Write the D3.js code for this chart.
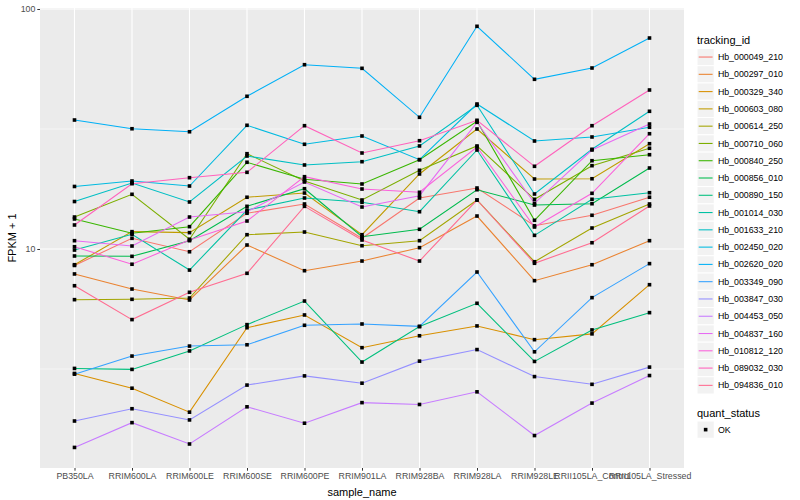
<!DOCTYPE html>
<html><head><meta charset="utf-8">
<script src="https://cdn.jsdelivr.net/npm/d3@7"></script>
<style>body{margin:0;background:#fff} text{font-family:"Liberation Sans",Arial,sans-serif}</style>
</head><body><svg id="c" width="800" height="500"></svg>
<script>
const samples = ["PB350LA","RRIM600LA","RRIM600LE","RRIM600SE","RRIM600PE","RRIM901LA","RRIM928BA","RRIM928LA","RRIM928LE","RRII105LA_Control","RRII105LA_Stressed"];
const trackingIds = ["Hb_000049_210","Hb_000297_010","Hb_000329_340","Hb_000603_080","Hb_000614_250","Hb_000710_060","Hb_000840_250","Hb_000856_010","Hb_000890_150","Hb_001014_030","Hb_001633_210","Hb_002450_020","Hb_002620_020","Hb_003349_090","Hb_003847_030","Hb_004453_050","Hb_004837_160","Hb_010812_120","Hb_089032_030","Hb_094836_010"];
const hueColors = ["#F8766D","#EA8331","#D89000","#C09B00","#A3A500","#7CAE00","#39B600","#00BB4E","#00BF7D","#00C1A3","#00BFC4","#00BAE0","#00B0F6","#35A2FF","#9590FF","#C77CFF","#E76BF3","#FA62DB","#FF62BC","#FF6C91"];
const yTicks = [10, 100];
const yMinor = [3.162, 31.62];
const quantStatus = ["OK"];

// FPKM + 1 values, one array per tracking_id, in sample order
const hb_000049_210 = [8.54, 11.08, 9.74, 14.09, 15.40, 11.08, 16.31, 17.95, 12.50, 13.82, 16.43];
const hb_000297_010 = [7.87, 6.81, 6.13, 10.39, 8.12, 8.91, 10.13, 13.72, 7.38, 8.60, 10.83];
const hb_000329_340 = [3.03, 2.63, 2.09, 4.70, 5.31, 3.88, 4.35, 4.78, 4.19, 4.43, 7.10];
const hb_000603_080 = [8.60, 11.81, 11.70, 16.43, 17.11, 11.47, 20.54, 31.62, 19.57, 19.62, 27.46];
const hb_000614_250 = [6.15, 6.17, 6.25, 11.47, 11.77, 10.32, 10.83, 16.00, 8.85, 12.23, 15.40];
const hb_000710_060 = [13.59, 16.90, 10.98, 24.95, 19.20, 16.00, 21.28, 26.87, 16.11, 22.24, 26.28];
const hb_000840_250 = [13.34, 11.63, 12.39, 22.98, 19.52, 18.66, 23.56, 34.05, 13.17, 23.33, 24.71];
const hb_000856_010 = [9.35, 9.32, 10.83, 15.06, 17.83, 11.25, 12.08, 17.66, 15.25, 15.44, 21.75];
const hb_000890_150 = [3.18, 3.15, 3.76, 4.84, 6.07, 3.38, 4.75, 5.94, 3.40, 4.60, 5.43];
const hb_001014_030 = [9.90, 11.51, 8.17, 14.53, 16.31, 15.65, 14.30, 25.85, 11.40, 16.11, 17.16];
const hb_001633_210 = [15.77, 18.84, 15.70, 24.40, 22.39, 23.11, 26.87, 39.70, 16.95, 26.03, 37.48];
const hb_002450_020 = [18.22, 19.20, 18.30, 32.77, 27.31, 29.57, 23.56, 40.19, 28.18, 29.29, 32.15];
const hb_002620_020 = [34.47, 31.70, 30.80, 43.28, 58.60, 56.60, 35.38, 84.70, 50.94, 56.77, 75.70];
const hb_003349_090 = [3.01, 3.58, 3.94, 3.99, 4.81, 4.87, 4.76, 8.02, 3.73, 6.27, 8.69];
const hb_003847_030 = [1.92, 2.16, 1.94, 2.71, 2.96, 2.76, 3.41, 3.81, 2.94, 2.73, 3.22];
const hb_004453_050 = [1.49, 1.89, 1.54, 2.20, 1.88, 2.29, 2.25, 2.54, 1.67, 2.28, 2.97];
const hb_004837_160 = [10.83, 10.29, 13.59, 14.30, 19.02, 14.96, 16.68, 33.72, 15.50, 25.85, 33.17];
const hb_010812_120 = [10.22, 8.64, 10.90, 13.08, 20.01, 17.78, 17.23, 26.61, 12.35, 17.06, 30.22];
const hb_089032_030 = [12.59, 18.71, 19.82, 20.87, 32.64, 25.12, 28.26, 34.38, 22.11, 32.64, 45.97];
const hb_094836_010 = [7.03, 5.08, 6.60, 7.92, 15.06, 10.90, 8.91, 16.00, 8.72, 10.62, 15.11];

const seriesValues = [hb_000049_210, hb_000297_010, hb_000329_340, hb_000603_080, hb_000614_250, hb_000710_060, hb_000840_250, hb_000856_010, hb_000890_150, hb_001014_030, hb_001633_210, hb_002450_020, hb_002620_020, hb_003349_090, hb_003847_030, hb_004453_050, hb_004837_160, hb_010812_120, hb_089032_030, hb_094836_010];

const series = trackingIds.map((id, i) => ({id, color: hueColors[i], values: seriesValues[i].map((v, j) => ({sample: samples[j], v}))}));

const svg = d3.select("#c");
const P = {l: 40, r: 684, t: 8, b: 468};

const x = d3.scalePoint().domain(samples).range([P.l, P.r]).padding(0.6);
const y = d3.scaleLog().domain([1.2232, 100.96]).range([P.b, P.t]);

svg.append("rect").attr("x", P.l).attr("y", P.t).attr("width", P.r - P.l).attr("height", P.b - P.t).attr("fill", "#EBEBEB");

const grid = svg.append("g");
grid.selectAll(".minor").data(yMinor).join("line")
  .attr("x1", P.l).attr("x2", P.r).attr("y1", d => y(d)).attr("y2", d => y(d))
  .attr("stroke", "#fff").attr("stroke-width", 0.55);
grid.selectAll(".majy").data(yTicks).join("line")
  .attr("x1", P.l).attr("x2", P.r).attr("y1", d => y(d)).attr("y2", d => y(d))
  .attr("stroke", "#fff").attr("stroke-width", 1.1);
grid.selectAll(".majx").data(samples).join("line")
  .attr("x1", d => x(d)).attr("x2", d => x(d)).attr("y1", P.t).attr("y2", P.b)
  .attr("stroke", "#fff").attr("stroke-width", 1.1);

const line = d3.line().x(d => x(d.sample)).y(d => y(d.v));
svg.append("g").selectAll("path").data(series).join("path")
  .attr("d", d => line(d.values)).attr("fill", "none")
  .attr("stroke", d => d.color).attr("stroke-width", 1.07);

const pts = series.flatMap(s => s.values);
svg.append("g").selectAll("rect").data(pts).join("rect")
  .attr("x", d => x(d.sample) - 1.8).attr("y", d => y(d.v) - 1.8)
  .attr("width", 3.6).attr("height", 3.6).attr("fill", "#000");

// axes
const yAxis = d3.axisLeft(y).tickValues(yTicks).tickFormat(d3.format("d")).tickSize(2.7).tickPadding(2);
const gy = svg.append("g").attr("transform", `translate(${P.l},0)`).call(yAxis);
gy.select(".domain").remove();
gy.selectAll(".tick line").attr("stroke", "#333");
gy.selectAll(".tick text").attr("fill", "#4D4D4D").attr("font-size", 8.8).style("font-family", "Liberation Sans, Arial, sans-serif");

const xAxis = d3.axisBottom(x).tickSize(2.7).tickPadding(2);
const gx = svg.append("g").attr("transform", `translate(0,${P.b})`).call(xAxis);
gx.select(".domain").remove();
gx.selectAll(".tick line").attr("stroke", "#333");
gx.selectAll(".tick text").attr("fill", "#4D4D4D").attr("font-size", 8.8).style("font-family", "Liberation Sans, Arial, sans-serif");

svg.append("text").attr("x", (P.l + P.r) / 2).attr("y", 496).attr("text-anchor", "middle")
  .attr("font-size", 11).attr("fill", "#000").text("sample_name");
svg.append("text").attr("transform", `translate(16,${(P.t + P.b) / 2}) rotate(-90)`).attr("text-anchor", "middle")
  .attr("font-size", 11).attr("fill", "#000").text("FPKM + 1");

// legend
const L = {x: 697, y0: 48.4, step: 17.28, kw: 17.28};
const leg = svg.append("g");
leg.append("text").attr("x", L.x).attr("y", 44).attr("font-size", 11).text("tracking_id");
const items = leg.selectAll("g.item").data(series).join("g").attr("class", "item")
  .attr("transform", (d, i) => `translate(${L.x},${L.y0 + i * L.step})`);
items.append("rect").attr("width", L.kw).attr("height", L.kw).attr("fill", "#F2F2F2").attr("stroke", "#fff").attr("stroke-width", 1);
items.append("line").attr("x1", 1.7).attr("x2", L.kw - 1.7).attr("y1", L.kw / 2).attr("y2", L.kw / 2)
  .attr("stroke", d => d.color).attr("stroke-width", 1.07);
items.append("text").attr("x", L.kw + 3.6).attr("y", L.kw / 2).attr("dy", "0.35em").attr("font-size", 8.8).text(d => d.id);

const qy = 421;
leg.append("text").attr("x", L.x).attr("y", 417).attr("font-size", 11).text("quant_status");
const q = leg.selectAll("g.q").data(quantStatus).join("g").attr("class", "q").attr("transform", (d, i) => `translate(${L.x},${qy + i * L.step})`);
q.append("rect").attr("width", L.kw).attr("height", L.kw).attr("fill", "#F2F2F2").attr("stroke", "#fff");
q.append("rect").attr("x", L.kw / 2 - 1.8).attr("y", L.kw / 2 - 1.8).attr("width", 3.6).attr("height", 3.6).attr("fill", "#000");
q.append("text").attr("x", L.kw + 3.6).attr("y", L.kw / 2).attr("dy", "0.35em").attr("font-size", 8.8).text(d => d);
</script></body></html>
